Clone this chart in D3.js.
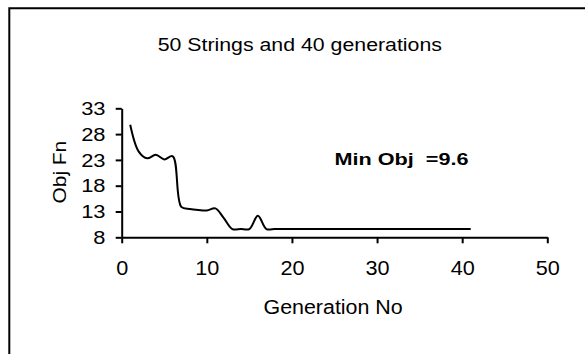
<!DOCTYPE html>
<html>
<head>
<meta charset="utf-8">
<script src="https://cdn.jsdelivr.net/npm/d3@7"></script>
<style>
  html, body { margin: 0; padding: 0; background: #fff; }
  svg { display: block; }
  text { font-family: "Liberation Sans", Arial, sans-serif; fill: #000; }
</style>
</head>
<body>
<svg id="chart" width="585" height="354"></svg>
<script>
// Best objective value found at each generation
const generations = [1, 2, 3, 4, 5, 6, 7, 8, 9, 10, 11, 12, 13, 14, 15, 16, 17, 18, 19, 20,
  21, 22, 23, 24, 25, 26, 27, 28, 29, 30, 31, 32, 33, 34, 35, 36, 37, 38, 39, 40, 41];
const objValues = [29.8, 24.6, 23.3, 24.0, 23.1, 23.7, 13.9, 13.5, 13.3, 13.2, 13.6, 11.7,
  9.6, 9.6, 9.6, 12.2, 9.6, 9.6, 9.6, 9.6, 9.6, 9.6, 9.6, 9.6, 9.6, 9.6, 9.6, 9.6, 9.6, 9.6,
  9.6, 9.6, 9.6, 9.6, 9.6, 9.6, 9.6, 9.6, 9.6, 9.6, 9.6];
const xTicks = [0, 10, 20, 30, 40, 50];
const yTicks = [8, 13, 18, 23, 28, 33];
const titleText = "50 Strings and 40 generations";
const xTitle = "Generation No";
const yTitle = "Obj Fn";
const minObj = 9.6;

const svg = d3.select("#chart");

// widen a text element horizontally by factor s
function stretch(sel, s) {
  sel.each(function () {
    const w = this.getComputedTextLength();
    d3.select(this).attr("textLength", w * s).attr("lengthAdjust", "spacingAndGlyphs");
  });
}

// outer frame
svg.append("path")
  .attr("d", "M9.3,360V8.3H600")
  .attr("fill", "none").attr("stroke", "#000").attr("stroke-width", 2);

const x = d3.scaleLinear().domain([0, 50]).range([121.7, 547.3]);
const y = d3.scaleLinear().domain([8, 33]).range([237.3, 108.3]);

// axes
const gx = svg.append("g").attr("transform", `translate(0,${y(8)})`)
  .call(d3.axisBottom(x).tickValues(xTicks).tickSize(6).tickSizeOuter(0).tickFormat(d3.format("d")));
const gy = svg.append("g").attr("transform", `translate(${x(0)},0)`)
  .call(d3.axisLeft(y).tickValues(yTicks).tickSize(6).tickSizeOuter(0).tickFormat(d3.format("d")));

[gx, gy].forEach(g => {
  g.select(".domain").attr("stroke", "#000").attr("stroke-width", 2);
  g.selectAll(".tick line").attr("stroke", "#000").attr("stroke-width", 2);
});

gx.selectAll(".tick text")
  .attr("font-size", 21).attr("y", 38).attr("dy", 0)
  .attr("font-family", "Liberation Sans, Arial, sans-serif")
  .call(stretch, 1.03);

gy.selectAll(".tick text")
  .attr("font-size", 17.5).attr("dy", 0).attr("y", 6.2)
  .attr("font-family", "Liberation Sans, Arial, sans-serif")
  .each(function () {
    const t = d3.select(this);
    const w = this.getComputedTextLength() * 1.25;
    t.attr("text-anchor", "start").attr("x", -16.2 - w)
      .attr("textLength", w).attr("lengthAdjust", "spacingAndGlyphs");
  });

// objective curve
const line = d3.line()
  .x((d, i) => x(generations[i]))
  .y(d => y(d))
  .curve(d3.curveCatmullRom.alpha(0.5));

svg.append("path")
  .datum(objValues)
  .attr("d", line)
  .attr("fill", "none").attr("stroke", "#000").attr("stroke-width", 2)
  .attr("stroke-linejoin", "round");

// titles
svg.append("text").attr("x", 157.7).attr("y", 51).attr("font-size", 18.7)
  .text(titleText).call(stretch, 1.14);

svg.append("text").attr("x", 263.5).attr("y", 314.3).attr("font-size", 20)
  .text(xTitle).call(stretch, 1.07);

svg.append("text").attr("transform", "translate(65.5,203.5) rotate(-90)")
  .attr("font-size", 18.5).text(yTitle).call(stretch, 1.13);

svg.append("text").attr("x", 334.5).attr("y", 164.5).attr("font-size", 16.5)
  .attr("font-weight", "bold")
  .text(`Min Obj\u00a0 =${minObj}`)
  .attr("textLength", 134).attr("lengthAdjust", "spacingAndGlyphs");
</script>
</body>
</html>
